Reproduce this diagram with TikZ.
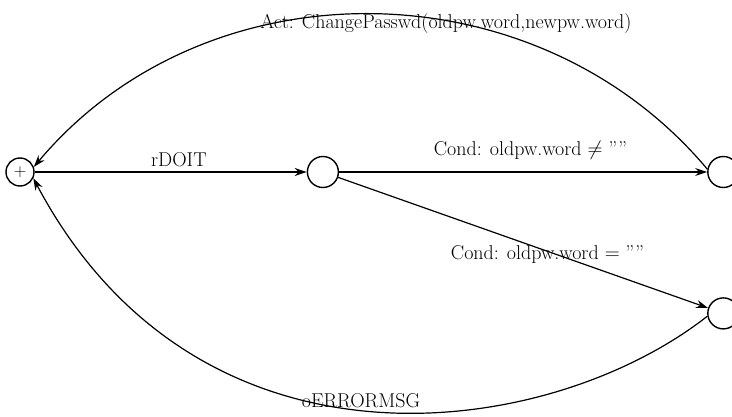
\documentclass[tikz,border=0pt]{standalone}
\usepackage{amsmath}
\usepackage{tikz}
\usetikzlibrary{arrows.meta,positioning}

\begin{document}
\begin{tikzpicture}[
  x=1pt,y=1pt,
  state/.style={circle,draw,line width=1.4pt,minimum size=31pt,inner sep=0pt},
  init/.style={state,minimum size=28pt,font=\fontsize{16}{18}\selectfont},
  arrow/.style={-{Stealth[length=12pt,width=8pt,inset=4pt]},line width=1.2pt},
  lbl/.style={font=\fontsize{20}{24}\selectfont,inner sep=1pt}
]
\useasboundingbox (0,0) rectangle (732,-417);
\node[init] (start) at (20,-172) {$+$};
\node[state,right=272pt of start] (run) {};
\node[state,right=368pt of run] (done) {};
\node[state,below=109pt of done] (fail) {};
% straight transitions
\draw[arrow] (start) -- node[lbl,pos=0.53,yshift=12.5pt] {rDOIT} (run);
\draw[arrow] (run) -- node[lbl,pos=0.52,yshift=21.5pt] {Cond: oldpw.word $\neq$ ""} (done);
\draw[arrow] (run) -- node[lbl,pos=0.566,yshift=-3.4pt] {Cond: oldpw.word $=$ ""} (fail);
% back to the start state
\draw[arrow] (done.170) .. controls +(-172,205) and +(172,205) .. node[lbl,pos=0.65,anchor=west,yshift=4.5pt] {Act: ChangePasswd(oldpw.word,newpw.word)} (start.20);
\draw[arrow] (fail.190) .. controls +(-158,-124) and +(166,-313) .. node[lbl,pos=0.52,xshift=3pt,yshift=8.5pt] {oERRORMSG} (start.-25);
\end{tikzpicture}
\end{document}
